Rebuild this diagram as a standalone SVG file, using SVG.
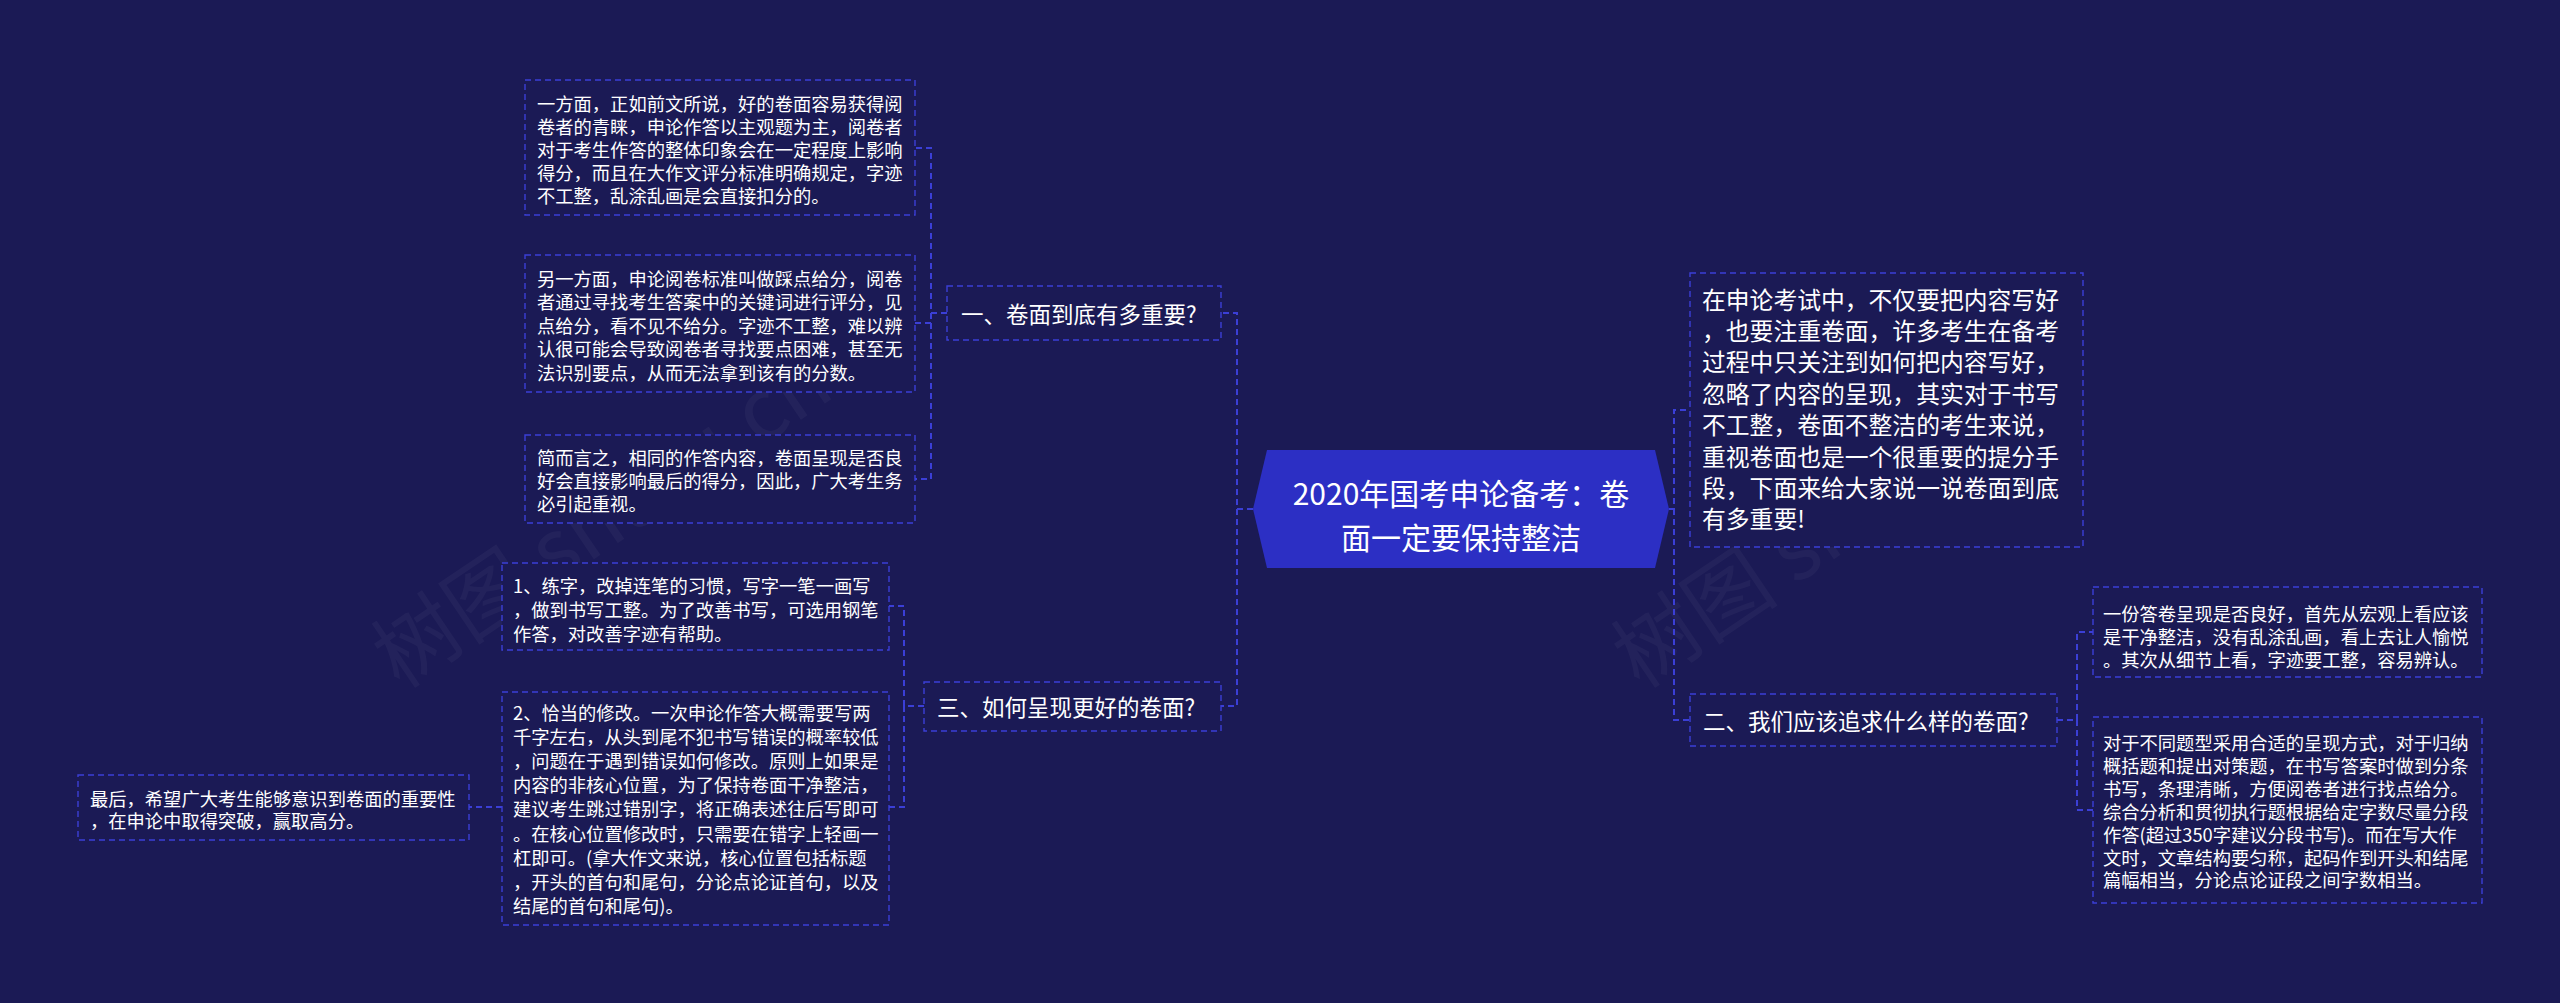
<svg xmlns="http://www.w3.org/2000/svg" width="2560" height="1003" viewBox="0 0 2560 1003">
<style>
.bg{fill:#1b1a55}
.box{fill:#1b1a55;stroke:#3b3fd6;stroke-width:1.4;stroke-dasharray:6 4}
.conn{fill:none;stroke:#3b3fd6;stroke-width:2;stroke-dasharray:6 4}
.t{fill:#ffffff;font-family:"Noto Sans CJK SC","Noto Sans",sans-serif;dominant-baseline:central}
.leaf{font-size:18.3px}
.head{font-size:22.5px}
.intro{font-size:23.8px}
.root{font-size:30px;text-anchor:middle}
.wm{fill:#ffffff;opacity:0.035;font-family:"Noto Sans CJK SC",sans-serif;font-size:84px}
</style>
<rect class="bg" x="0" y="0" width="2560" height="1003"/>
<g id="watermarks">
<text class="wm" transform="translate(400,690) rotate(-34)">树图 shutu.cn</text>
<text class="wm" transform="translate(1640,690) rotate(-34)">树图 shutu.cn</text>
</g>
<g id="connectors">
<path class="conn" d="M1253,509 H1237 V313 H1221"/>
<path class="conn" d="M1237,509 V706 H1221"/>
<path class="conn" d="M947,313 H931 V148 H915"/>
<path class="conn" d="M931,313 V323 H915"/>
<path class="conn" d="M931,313 V479 H915"/>
<path class="conn" d="M924,706 H904 V606 H889"/>
<path class="conn" d="M904,706 V807 H889"/>
<path class="conn" d="M502,807 H469"/>
<path class="conn" d="M1669,509 H1674 V410 H1690"/>
<path class="conn" d="M1674,509 V720 H1690"/>
<path class="conn" d="M2057,720 H2077 V632 H2093"/>
<path class="conn" d="M2077,720 V810 H2093"/>
</g>
<g id="root">
<polygon points="1253,509 1267,450 1655,450 1669,509 1655,568 1267,568" fill="#2c2fc4"/>
<text class="t root" x="1461" y="492">2020年国考申论备考：卷</text>
<text class="t root" x="1461" y="536">面一定要保持整洁</text>
</g>
<g id="intro">
<rect class="box" x="1690" y="273" width="393" height="274"/>
<text class="t intro" x="1702" y="298">在申论考试中，不仅要把内容写好</text>
<text class="t intro" x="1702" y="329.4">，也要注重卷面，许多考生在备考</text>
<text class="t intro" x="1702" y="360.8">过程中只关注到如何把内容写好，</text>
<text class="t intro" x="1702" y="392.2">忽略了内容的呈现，其实对于书写</text>
<text class="t intro" x="1702" y="423.6">不工整，卷面不整洁的考生来说，</text>
<text class="t intro" x="1702" y="455">重视卷面也是一个很重要的提分手</text>
<text class="t intro" x="1702" y="486.4">段，下面来给大家说一说卷面到底</text>
<text class="t intro" x="1702" y="517.8">有多重要!</text>
</g>
<g id="h1">
<rect class="box" x="947" y="286" width="274" height="54"/>
<text class="t head" x="961" y="313">一、卷面到底有多重要?</text>
</g>
<g id="h2">
<rect class="box" x="1690" y="694" width="367" height="52"/>
<text class="t head" x="1703" y="720">二、我们应该追求什么样的卷面?</text>
</g>
<g id="h3">
<rect class="box" x="924" y="682" width="297" height="49"/>
<text class="t head" x="937" y="706">三、如何呈现更好的卷面?</text>
</g>
<g id="l1">
<rect class="box" x="525" y="80" width="390" height="135"/>
<text class="t leaf" x="537" y="103">一方面，正如前文所说，好的卷面容易获得阅</text>
<text class="t leaf" x="537" y="126">卷者的青睐，申论作答以主观题为主，阅卷者</text>
<text class="t leaf" x="537" y="149">对于考生作答的整体印象会在一定程度上影响</text>
<text class="t leaf" x="537" y="172">得分，而且在大作文评分标准明确规定，字迹</text>
<text class="t leaf" x="537" y="195">不工整，乱涂乱画是会直接扣分的。</text>
</g>
<g id="l2">
<rect class="box" x="525" y="255" width="390" height="137"/>
<text class="t leaf" x="537" y="278">另一方面，申论阅卷标准叫做踩点给分，阅卷</text>
<text class="t leaf" x="537" y="301.4">者通过寻找考生答案中的关键词进行评分，见</text>
<text class="t leaf" x="537" y="324.8">点给分，看不见不给分。字迹不工整，难以辨</text>
<text class="t leaf" x="537" y="348.2">认很可能会导致阅卷者寻找要点困难，甚至无</text>
<text class="t leaf" x="537" y="371.6">法识别要点，从而无法拿到该有的分数。</text>
</g>
<g id="l3">
<rect class="box" x="525" y="435" width="390" height="88"/>
<text class="t leaf" x="537" y="457">简而言之，相同的作答内容，卷面呈现是否良</text>
<text class="t leaf" x="537" y="480">好会直接影响最后的得分，因此，广大考生务</text>
<text class="t leaf" x="537" y="503">必引起重视。</text>
</g>
<g id="l4">
<rect class="box" x="502" y="563" width="387" height="87"/>
<text class="t leaf" x="513" y="585">1、练字，改掉连笔的习惯，写字一笔一画写</text>
<text class="t leaf" x="513" y="609">，做到书写工整。为了改善书写，可选用钢笔</text>
<text class="t leaf" x="513" y="633">作答，对改善字迹有帮助。</text>
</g>
<g id="l5">
<rect class="box" x="502" y="692" width="387" height="233"/>
<text class="t leaf" x="513" y="712">2、恰当的修改。一次申论作答大概需要写两</text>
<text class="t leaf" x="513" y="736.1">千字左右，从头到尾不犯书写错误的概率较低</text>
<text class="t leaf" x="513" y="760.2">，问题在于遇到错误如何修改。原则上如果是</text>
<text class="t leaf" x="513" y="784.3">内容的非核心位置，为了保持卷面干净整洁，</text>
<text class="t leaf" x="513" y="808.4">建议考生跳过错别字，将正确表述往后写即可</text>
<text class="t leaf" x="513" y="832.5">。在核心位置修改时，只需要在错字上轻画一</text>
<text class="t leaf" x="513" y="856.6">杠即可。(拿大作文来说，核心位置包括标题</text>
<text class="t leaf" x="513" y="880.7">，开头的首句和尾句，分论点论证首句，以及</text>
<text class="t leaf" x="513" y="904.8">结尾的首句和尾句)。</text>
</g>
<g id="l6">
<rect class="box" x="78" y="775" width="391" height="65"/>
<text class="t leaf" x="90" y="798">最后，希望广大考生能够意识到卷面的重要性</text>
<text class="t leaf" x="90" y="820">，在申论中取得突破，赢取高分。</text>
</g>
<g id="r1">
<rect class="box" x="2093" y="587" width="389" height="90"/>
<text class="t leaf" x="2103" y="613">一份答卷呈现是否良好，首先从宏观上看应该</text>
<text class="t leaf" x="2103" y="636">是干净整洁，没有乱涂乱画，看上去让人愉悦</text>
<text class="t leaf" x="2103" y="659">。其次从细节上看，字迹要工整，容易辨认。</text>
</g>
<g id="r2">
<rect class="box" x="2093" y="717" width="389" height="186"/>
<text class="t leaf" x="2103" y="742">对于不同题型采用合适的呈现方式，对于归纳</text>
<text class="t leaf" x="2103" y="764.9">概括题和提出对策题，在书写答案时做到分条</text>
<text class="t leaf" x="2103" y="787.8">书写，条理清晰，方便阅卷者进行找点给分。</text>
<text class="t leaf" x="2103" y="810.7">综合分析和贯彻执行题根据给定字数尽量分段</text>
<text class="t leaf" x="2103" y="833.6">作答(超过350字建议分段书写)。而在写大作</text>
<text class="t leaf" x="2103" y="856.5">文时，文章结构要匀称，起码作到开头和结尾</text>
<text class="t leaf" x="2103" y="879.4">篇幅相当，分论点论证段之间字数相当。</text>
</g>
</svg>
